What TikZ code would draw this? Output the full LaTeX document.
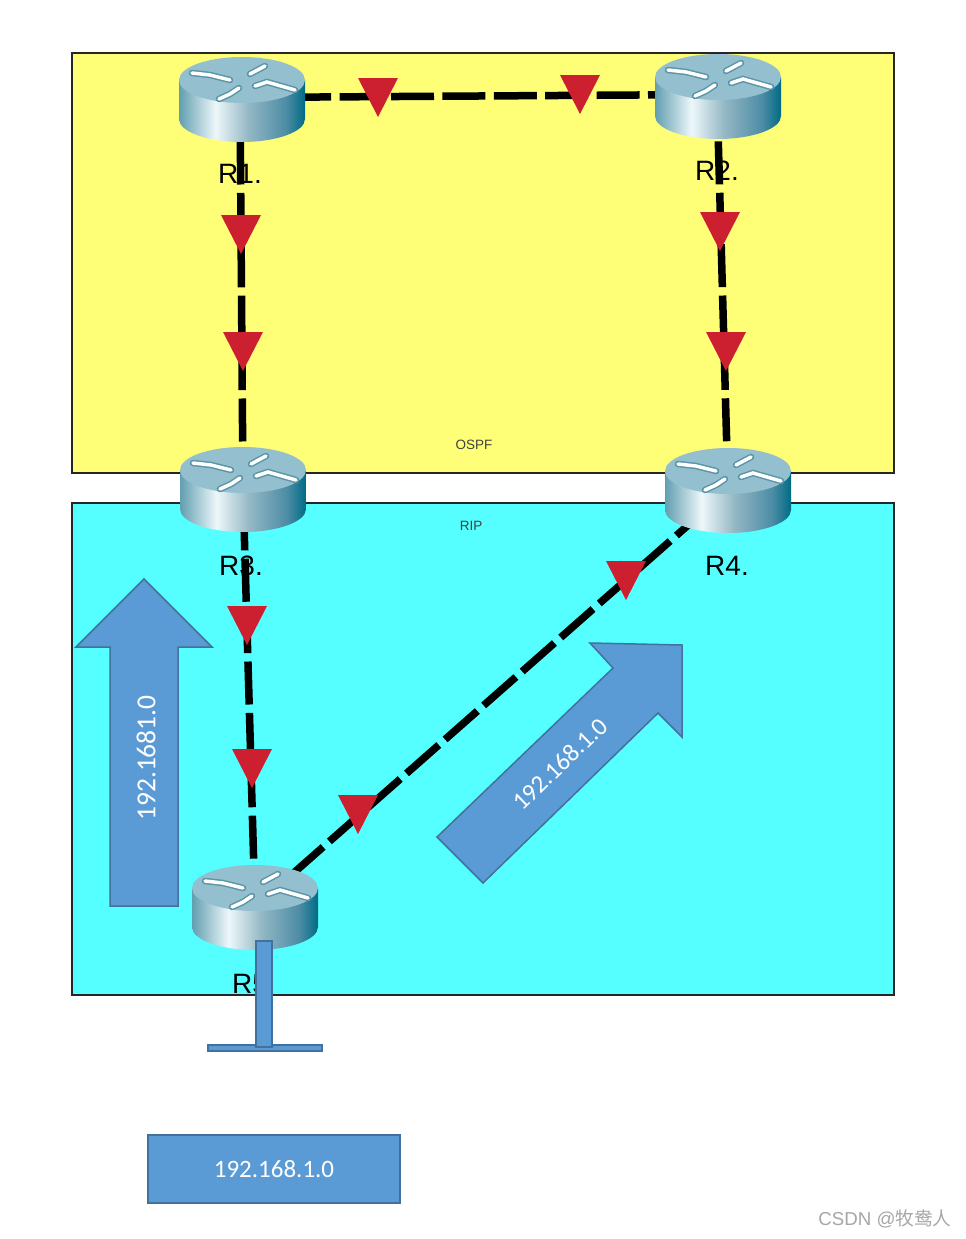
\documentclass[tikz,border=0pt]{standalone}
\usepackage{fontspec}
\setmainfont{Liberation Sans}
\newfontfamily\labelfont{Carlito}
\newfontfamily\cjk{Noto Sans CJK SC}
\definecolor{ospfyellow}{HTML}{FFFF77}
\definecolor{ripcyan}{HTML}{55FFFF}
\definecolor{boxblue}{HTML}{5B9BD5}
\definecolor{boxedge}{HTML}{41719C}
\definecolor{markred}{HTML}{CC2030}
\definecolor{routertop}{HTML}{94BFCF}
\definecolor{routermark}{HTML}{5A95A8}
\pgfdeclarehorizontalshading{routerside}{100bp}{
  rgb(0bp)=(.38,.62,.69); rgb(25bp)=(.38,.62,.69);
  rgb(39.5bp)=(.93,.97,.98); rgb(52.5bp)=(.58,.72,.77);
  rgb(67.5bp)=(.3,.55,.65); rgb(75bp)=(0,.42,.52); rgb(100bp)=(0,.42,.52)}
\tikzset{
  zone/.style={draw=black!85, line width=2.5pt},
  link/.style={line width=7.5pt, dash pattern=on 43pt off 8.4pt, dash phase=#1},
  bluebox/.style={draw=boxedge, fill=boxblue, line width=1.5pt},
  routername/.style={font=\fontsize{28}{30}\selectfont, inner sep=0pt},
  whitetext/.style={text=white, font=\labelfont\fontsize{25}{28}\selectfont, inner sep=0pt},
  tinytext/.style={font=\fontsize{13.5}{15}\selectfont, inner sep=0pt, text=black!75},
}
% router: centre x, centre y
\newcommand{\router}[2]{
  \begin{scope}[shift={(#1,#2)}]
    \shade[shading=routerside] (-63,-19) -- (-63,20) arc[start angle=180, end angle=0, x radius=63, y radius=23] -- (63,-19) -- cycle;
    \fill[routertop] (0,-19) ellipse[x radius=63, y radius=23];
    \foreach \c/\w in {routermark/6.5, white/3.5} {
      \draw[\c, line width=\w pt, line cap=round] (-50,-26) -- (-32,-24) -- (-12,-19);
      \draw[\c, line width=\w pt, line cap=round] (23,-33) -- (8,-25);
      \draw[\c, line width=\w pt, line cap=round] (-3,-11) -- (-12,-5) -- (-23,0);
      \draw[\c, line width=\w pt, line cap=round] (13,-13) -- (25,-17) -- (53,-9);
    }
  \end{scope}
}
% red marker: left end of its top side, top y
\newcommand{\marker}[2]{
  \fill[markred] (#1,#2) -- ++(40,0) -- ++(-20,39) -- cycle;
}
\begin{document}
\begin{tikzpicture}[x=1pt,y=-1pt]
  \useasboundingbox (0,0) rectangle (966,1239);

  % zones
  \draw[zone, fill=ospfyellow] (72,53) rectangle (894,473);
  \draw[zone, fill=ripcyan] (72,503) rectangle (894,995);
  \node[tinytext] (ospf) at (474,445) {OSPF};
  \node[tinytext] (rip) at (471,526) {RIP};

  \coordinate (R1) at (240,97.5);
  \coordinate (R2) at (717,94.5);
  \coordinate (R3) at (243,489);
  \coordinate (R4) at (728,490);
  \coordinate (R5) at (255,907);

  % links
  \draw[link=3.2] (R1) -- (R2);
  \draw[link=7.4] (R1) -- (R3);
  \draw[link=4.5] (R2) -- (R4);
  \draw[link=33] (R3) -- (R5);
  \draw[link=3.6] (R5) -- (R4);

  \router{242}{99}
  \router{718}{96}
  \router{243}{489}
  \router{728}{490}
  \router{255}{907}

  \marker{358}{78}
  \marker{560}{75}
  \marker{221}{215}
  \marker{223}{332}
  \marker{700}{212}
  \marker{706}{332}
  \marker{227}{606}
  \marker{232}{749}
  \marker{338}{795}
  \marker{606}{561}

  % names
  \node[routername] (nameR1) at (240,174) {R1.};
  \node[routername] (nameR2) at (717,171) {R2.};
  \node[routername] (nameR3) at (241,566) {R3.};
  \node[routername] (nameR4) at (727,566) {R4.};
  \node[routername, anchor=west] (nameR5) at (232,984) {R5};

  % blue arrows
  \draw[bluebox] (144,579) -- (212,647) -- (178,647) -- (178,906) -- (110,906) -- (110,647) -- (76,647) -- cycle;
  \node[whitetext, rotate=90, font=\labelfont\fontsize{27.5}{30}\selectfont] (arrowup) at (146,758) {192.1681.0};
  \draw[bluebox] (682,645) -- (590,643) -- (613,668) -- (437,837) -- (483,883) -- (658,713) -- (682,737) -- cycle;
  \node[whitetext, rotate=44] (arrowdiag) at (560,764) {192.168.1.0};

  % stub below R5
  \draw[bluebox] (208,1045) rectangle (322,1051);
  \draw[bluebox] (256,941) rectangle (272,1047);

  \node[bluebox, whitetext, minimum width=252pt, minimum height=68pt] (net) at (274,1169) {192.168.1.0};

  \node[text=black!35, font=\fontsize{18.7}{22}\selectfont, inner sep=0pt] (mark) at (885,1219) {CSDN @{\cjk 牧鸯人}};
\end{tikzpicture}
\end{document}
